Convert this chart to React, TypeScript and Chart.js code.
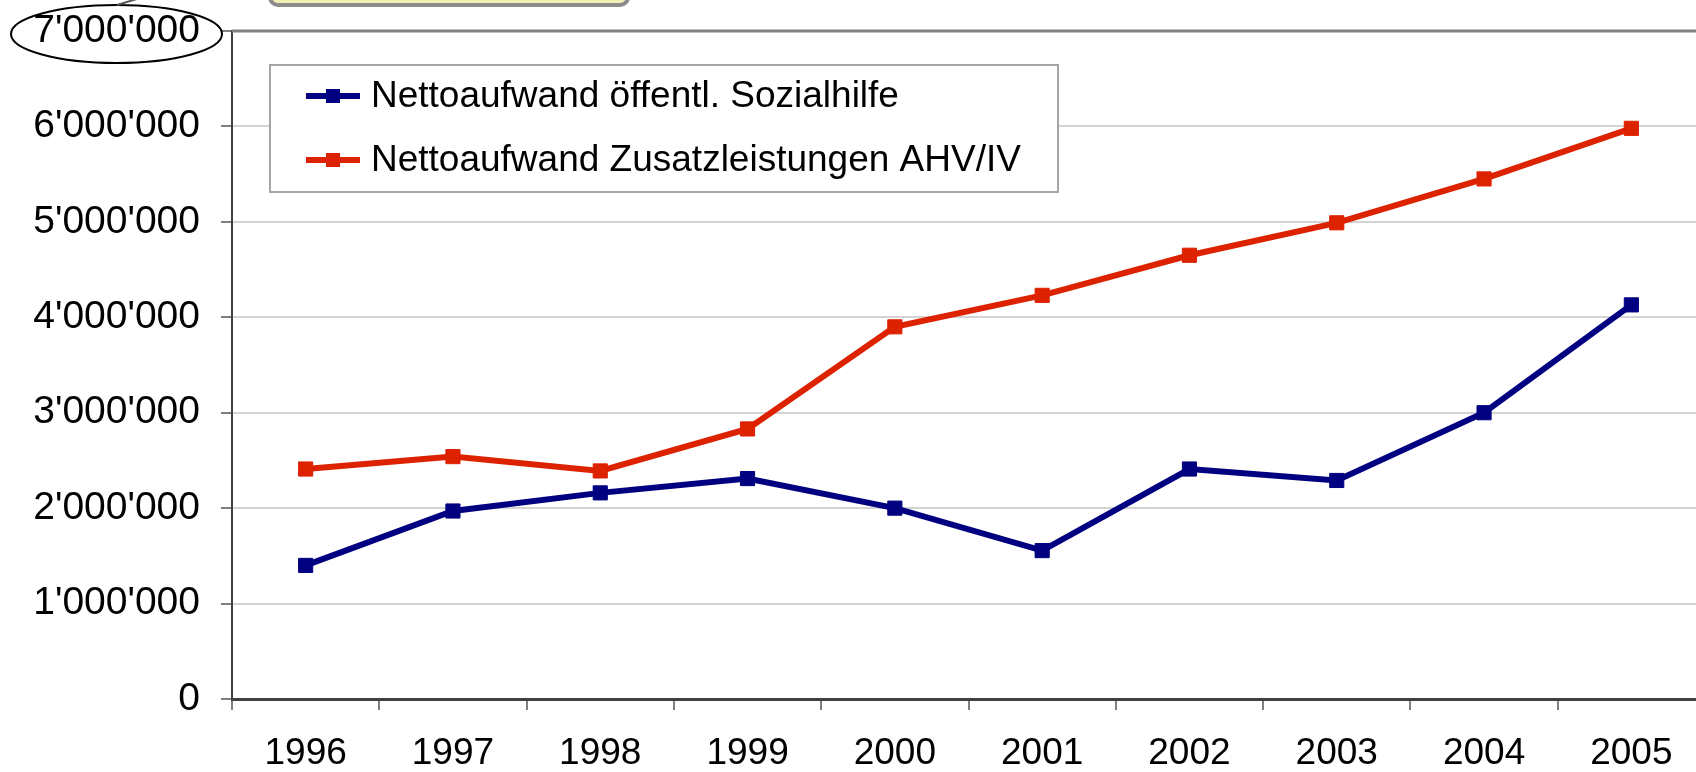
import React, { useEffect, useRef } from 'react';
import { Chart, registerables } from 'chart.js';

Chart.register(...registerables);

const years = ['1996', '1997', '1998', '1999', '2000', '2001', '2002', '2003', '2004', '2005'];
const sozialhilfe = [1400000, 1970000, 2160000, 2310000, 2000000, 1555000, 2410000, 2290000, 3000000, 4130000];
const zusatzleistungen = [2410000, 2540000, 2390000, 2830000, 3900000, 4230000, 4650000, 4990000, 5450000, 5980000];
const seriesLabels = ['Nettoaufwand öffentl. Sozialhilfe', 'Nettoaufwand Zusatzleistungen AHV/IV'];
const seriesColors = ['#000080', '#dd2200'];

const FONT = '"Liberation Sans", Arial, sans-serif';

function fmt(v: number): string {
  const s = Math.round(v).toString();
  return s.replace(/\B(?=(\d{3})+(?!\d))/g, "'");
}

const decorPlugin = {
  id: 'decor',
  afterDraw(chart: any) {
    const ctx = chart.ctx;
    const area = chart.chartArea;
    ctx.save();
    // top border of plot area
    ctx.strokeStyle = '#808080';
    ctx.lineWidth = 3;
    ctx.beginPath();
    ctx.moveTo(area.left, area.top);
    ctx.lineTo(chart.width, area.top);
    ctx.stroke();

    // legend box
    const lx = 270, ly = 65, lw = 788, lh = 127;
    ctx.fillStyle = '#ffffff';
    ctx.fillRect(lx, ly, lw, lh);
    ctx.strokeStyle = '#a6a6a6';
    ctx.lineWidth = 2;
    ctx.strokeRect(lx, ly, lw, lh);
    const rows = [96, 160];
    chart.data.datasets.forEach((ds: any, i: number) => {
      const y = rows[i];
      ctx.strokeStyle = ds.borderColor;
      ctx.lineWidth = 6;
      ctx.beginPath();
      ctx.moveTo(306, y);
      ctx.lineTo(360, y);
      ctx.stroke();
      ctx.fillStyle = ds.borderColor;
      ctx.fillRect(333 - 7, y - 7, 14, 14);
      ctx.fillStyle = '#000000';
      ctx.font = `37px ${FONT}`;
      ctx.textBaseline = 'middle';
      ctx.textAlign = 'left';
      ctx.fillText(ds.label, 371, y + 1);
    });

    // ellipse annotation around top label
    ctx.strokeStyle = '#000000';
    ctx.lineWidth = 2;
    ctx.beginPath();
    ctx.ellipse(116.5, 34, 105.5, 29, 0, 0, Math.PI * 2);
    ctx.stroke();
    ctx.strokeStyle = '#555555';
    ctx.lineWidth = 2;
    ctx.beginPath();
    ctx.moveTo(117, 5);
    ctx.lineTo(140, -2);
    ctx.stroke();

    // partially visible callout box at the top
    ctx.fillStyle = '#f3efb4';
    ctx.strokeStyle = '#8c8c8c';
    ctx.lineWidth = 4;
    ctx.beginPath();
    (ctx as any).roundRect(270, -30, 358, 35, 8);
    ctx.fill();
    ctx.stroke();
    ctx.restore();
  },
};

export default function App() {
  const ref = useRef<HTMLCanvasElement | null>(null);
  useEffect(() => {
    if (!ref.current) return;
    const mkDs = (i: number, data: number[]) => ({
      label: seriesLabels[i],
      data,
      borderColor: seriesColors[i],
      backgroundColor: seriesColors[i],
      borderWidth: 6,
      pointStyle: 'rect',
      pointRadius: 10,
      pointBorderWidth: 1,
      pointBackgroundColor: seriesColors[i],
      pointBorderColor: seriesColors[i],
      tension: 0,
    });
    const chart = new Chart(ref.current, {
      type: 'line',
      data: {
        labels: years,
        datasets: [mkDs(0, sozialhilfe), mkDs(1, zusatzleistungen)],
      },
      options: {
        animation: false,
        responsive: false,
        maintainAspectRatio: false,
        layout: { padding: { top: 31, right: 15, left: 0, bottom: 0 } },
        plugins: {
          legend: { display: false },
          tooltip: { enabled: false },
        },
        scales: {
          x: {
            type: 'category',
            offset: true,
            grid: {
              offset: true,
              drawOnChartArea: false,
              tickLength: 11,
              color: '#808080',
              tickColor: '#808080',
              lineWidth: 2,
            },
            border: { color: '#404040', width: 3 },
            ticks: {
              color: '#000000',
              font: { family: FONT, size: 37 },
              padding: 22,
              maxRotation: 0,
              autoSkip: false,
            },
            afterFit: (s: any) => {
              s.height = 73;
            },
          },
          y: {
            min: 0,
            max: 7000000,
            grid: {
              color: '#d4d4d4',
              tickColor: '#808080',
              tickLength: 11,
              lineWidth: 2,
            },
            border: { color: '#404040', width: 2 },
            ticks: {
              stepSize: 1000000,
              color: '#000000',
              font: { family: FONT, size: 39 },
              padding: 21,
              callback: (v: any) => fmt(Number(v)),
            },
            afterFit: (s: any) => {
              s.width = 232;
              s.paddingTop = 0;
              s.paddingBottom = 0;
            },
          },
        },
      },
      plugins: [decorPlugin],
    });
    return () => chart.destroy();
  }, []);

  return (
    <div style={{ position: 'fixed', left: 0, top: 0, width: 1720, height: 772, background: '#ffffff', overflow: 'hidden' }}>
      <canvas ref={ref} width={1720} height={772} style={{ width: 1720, height: 772, display: 'block' }} />
    </div>
  );
}
